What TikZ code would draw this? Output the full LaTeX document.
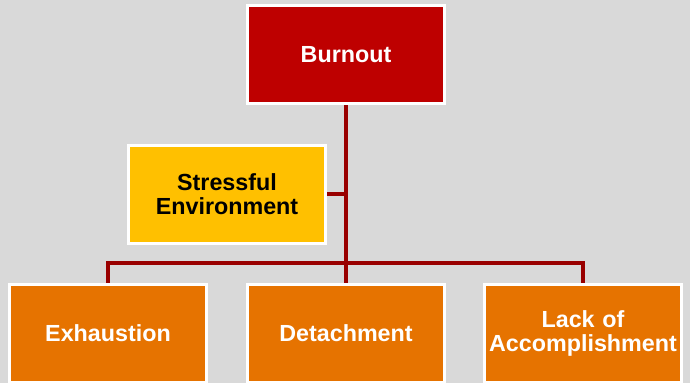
\documentclass[tikz,border=0pt]{standalone}
\usepackage{fontspec}
\setmainfont{Liberation Sans}
\usetikzlibrary{backgrounds}
\definecolor{pagegray}{HTML}{D9D9D9}
\definecolor{burnred}{HTML}{BE0000}
\definecolor{stressyellow}{HTML}{FFC000}
\definecolor{symptomorange}{HTML}{E67300}
\definecolor{linkred}{HTML}{990000}
\tikzset{
  box/.style={draw=white, line width=3pt, minimum width=197pt, minimum height=98pt,
    inner sep=0pt, align=center, text width=194pt,
    font=\fontsize{23.3}{23.5}\selectfont\bfseries},
  rootbox/.style={box, fill=burnred, text=white},
  causebox/.style={box, fill=stressyellow, text=black},
  leafbox/.style={box, fill=symptomorange, text=white},
  link/.style={draw=linkred, line width=3.5pt}
}
\begin{document}
\begin{tikzpicture}[x=1pt, y=-1pt]
  \useasboundingbox (0,0) rectangle (690,383);
  \clip (0,0) rectangle (690,383);

  \node[rootbox]  (burnout) at (346,54.5)  {Burnout};
  \node[causebox] (stress)  at (227,194)   {Stressful\\Environment};
  \node[leafbox]  (exh)     at (108,333.5) {Exhaustion};
  \node[leafbox]  (det)     at (346,333.5) {Detachment};
  \node[leafbox]  (lack)    at (583,333.5) {Lack of\\Accomplishment};
  \coordinate (split) at (346,263);

  \begin{pgfonlayer}{background}
    \fill[pagegray] (0,0) rectangle (690,383);
    \draw[link] (burnout.south) -- (det.north);
    \draw[link] (stress.east) -- (stress.east -| burnout.south);
    \draw[link] (exh.north) |- (split) -| (lack.north);
  \end{pgfonlayer}
\end{tikzpicture}
\end{document}
